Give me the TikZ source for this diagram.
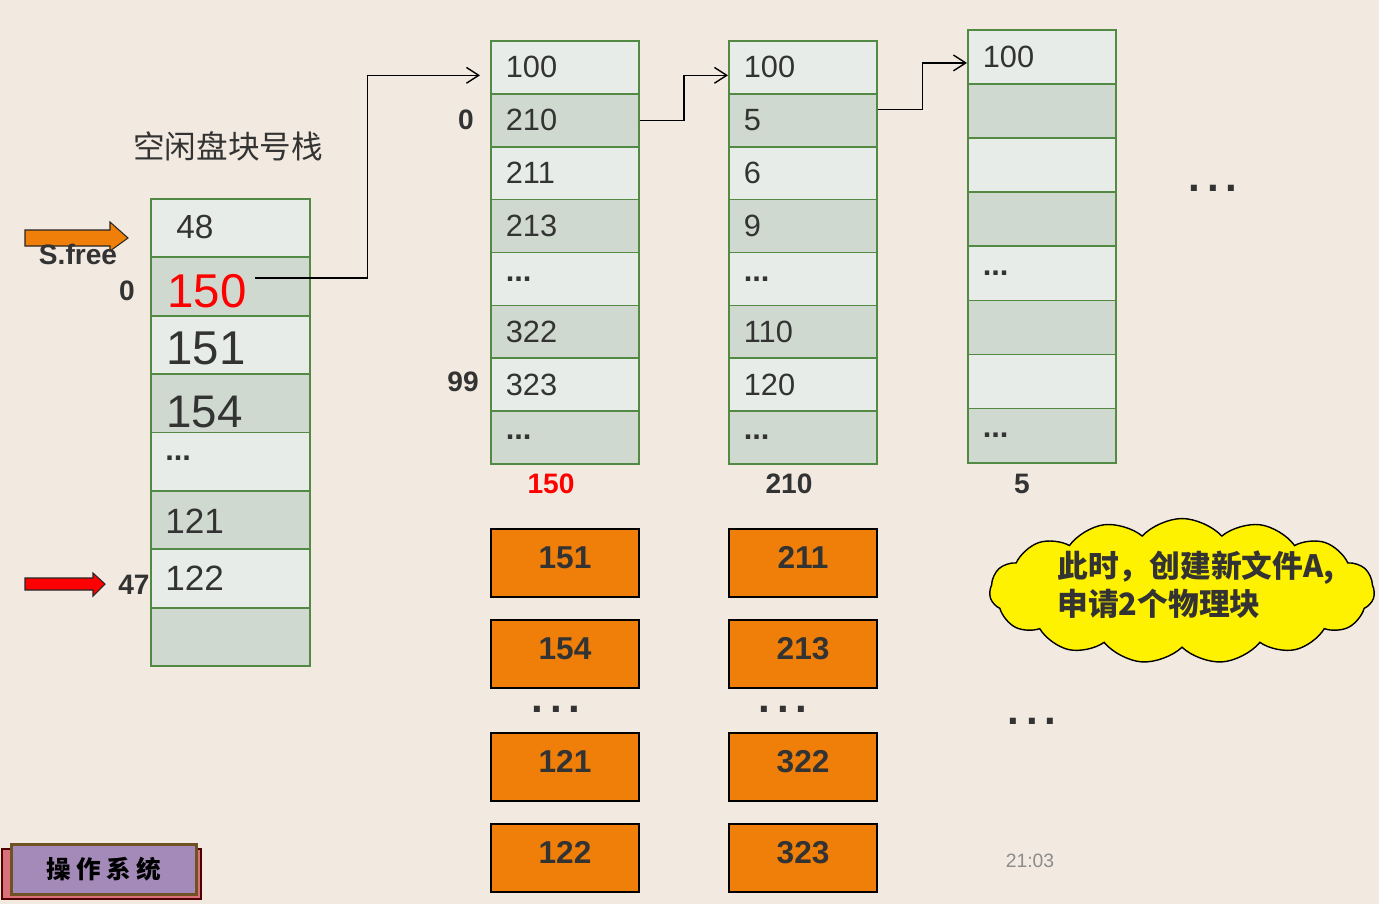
\documentclass[tikz,border=0pt]{standalone}
\usepackage{fontspec}
\setmainfont{Liberation Sans}
\newfontfamily\cjk{Noto Sans CJK SC}
\usetikzlibrary{calc,arrows.meta,shapes.symbols}
\definecolor{bg}{HTML}{F2EAE0}
\definecolor{cellA}{HTML}{E8ECE8}
\definecolor{cellB}{HTML}{CFD9CF}
\definecolor{cellline}{HTML}{538A43}
\definecolor{ink}{HTML}{333333}
\definecolor{blkorange}{HTML}{F07F09}
\definecolor{ospurple}{HTML}{A38AB8}
\definecolor{osframe}{HTML}{6E5223}
\definecolor{ospink}{HTML}{D9707A}
\newcommand{\celldots}{\textbf{...}}
\tikzset{
  cell/.style={draw=cellline,line width=1pt,anchor=north west,inner xsep=0.3cm,inner ysep=0pt,
    text width=2.36cm,align=left,minimum height=1.058cm,text=ink,font=\fontsize{17.5}{20}\selectfont},
  stackcell/.style={draw=cellline,line width=1pt,anchor=north west,minimum width=3.18cm,minimum height=1.168cm},
  stxt/.style={anchor=west,inner sep=0pt,text=ink},
  idx/.style={inner sep=0pt,text=ink,font=\bfseries\fontsize{16}{16}\selectfont},
  blk/.style={draw=black,line width=1.2pt,fill=blkorange,anchor=north west,minimum width=2.96cm,
    minimum height=1.36cm,inner sep=0pt,text=ink,font=\bfseries\fontsize{18}{18}\selectfont},
  bigdots/.style={inner sep=0pt,text=ink,font=\bfseries\fontsize{24}{24}\selectfont},
  link/.style={->,line width=0.8pt}
}
\begin{document}
\begin{tikzpicture}[x=0.02cm,y=-0.02cm,>={Straight Barb[length=7pt,width=9pt]}]
  \useasboundingbox[fill=bg] (0,0) rectangle (1379,904);
  % free block stack
  \node[text=ink,font=\cjk\fontsize{18}{18}\selectfont] (title) at (228,146) {空闲盘块号栈};
  \foreach \i/\f in {0/cellA,1/cellB,2/cellA,3/cellB,4/cellA,5/cellB,6/cellA,7/cellB}
    \node[stackcell,fill=\f] (s\i) at (150,{198+58.4*\i}) {};
  \node[stxt,font=\fontsize{19}{19}\selectfont] (sv0) at (176,227) {48};
  \node[stxt,font=\fontsize{27}{27}\selectfont,text=red] (sv1) at (167,291) {150};
  \node[stxt,font=\fontsize{27}{27}\selectfont] (sv2) at (166,348) {151};
  \node[stxt,font=\fontsize{26}{26}\selectfont] (sv3) at (166,412) {154};
  \node[stxt,font=\fontsize{17.5}{18}\selectfont] (sv4) at (165,458) {\celldots};
  \node[stxt,font=\fontsize{20}{20}\selectfont] (sv5) at (165,521) {121};
  \node[stxt,font=\fontsize{20}{20}\selectfont] (sv6) at (165,578) {122};
  \node[idx] (i0) at (127,291) {0};
  \node[idx] (i47) at (134,585) {47};
  % pointers
  \draw[fill=blkorange,draw=black!85,line width=0.6pt] (25,230) -- (110,230) -- (110,222)
    -- (128,238) -- (110,251) -- (110,246) -- (25,246) -- cycle;
  \node[idx,font=\bfseries\fontsize{16}{16}\selectfont] (sfree) at (78,254) {S.free};
  \draw[fill=red,draw=black!85,line width=0.6pt] (25,578) -- (93,578) -- (93,573)
    -- (105,584) -- (93,596) -- (93,590) -- (25,590) -- cycle;
  % group blocks
  \foreach \i/\t/\f in {0/100/cellA,1/210/cellB,2/211/cellA,3/213/cellB,4/\celldots/cellA,5/322/cellB,6/323/cellA,7/\celldots/cellB}
    \node[cell,fill=\f] (a\i) at (490,{40+52.9*\i}) {\t};
  \foreach \i/\t/\f in {0/100/cellA,1/5/cellB,2/6/cellA,3/9/cellB,4/\celldots/cellA,5/110/cellB,6/120/cellA,7/\celldots/cellB}
    \node[cell,fill=\f] (b\i) at (728,{40+52.9*\i}) {\t};
  \foreach \i/\t/\f in {0/100/cellA,1//cellB,2//cellA,3//cellB,4/\celldots/cellA,5//cellB,6//cellA,7/\celldots/cellB}
    \node[cell,fill=\f,minimum height=1.082cm] (c\i) at (967,{29+54.1*\i}) {\t};
  \node[idx] (j0) at (466,120) {0};
  \node[idx] (j99) at (463,382) {99};
  \node[idx,text=red] (na) at (551,484) {150};
  \node[idx] (nb) at (789,484) {210};
  \node[idx] (nc) at (1022,484) {5};
  % links
  \coordinate (l1) at ($(sv1.east)+(8,-13)$);
  \coordinate (l2) at ($(a0.west)+(-10,8)$);
  \draw[link] (l1) -| ($(l1)!.5!(l2)$) |- (l2);
  \coordinate (l3) at ($(b0.west)+(0,8)$);
  \draw[link] (a1.east) -| ($(a1.east)!.5!(l3)$) |- (l3);
  \coordinate (l4) at ($(b1.east)+(0,-11)$);
  \coordinate (l5) at ($(c0.west)+(0,6)$);
  \draw[link] (l4) -| ($(l4)!.5!(l5)$) |- (l5);
  % allocated blocks
  \foreach \i/\t/\y in {1/151/528,2/154/619,3/121/732,4/122/823}
    \node[blk] (p\i) at (490,\y) {\raisebox{6pt}{\t}};
  \foreach \i/\t/\y in {1/211/528,2/213/619,3/322/732,4/323/823}
    \node[blk] (q\i) at (728,\y) {\raisebox{6pt}{\t}};
  \node[bigdots] (d1) at (556,709) {.\kern4pt.\kern4pt.};
  \node[bigdots] (d2) at (783,709) {.\kern4pt.\kern4pt.};
  \node[bigdots] (d3) at (1032,721) {.\kern4pt.\kern4pt.};
  \node[bigdots] (d4) at (1213,188) {.\kern4pt.\kern4pt.};
  % note
  \node[cloud,cloud puffs=15,cloud puff arc=95,aspect=2.7,draw=black,line width=0.8pt,fill=yellow,
    minimum width=7.7cm,minimum height=2.9cm] (note) at (1182,591) {};
  \node[anchor=west,align=left,inner sep=0pt,text=ink,
    font=\cjk\bfseries\fontsize{17.5}{21.6}\selectfont] (notetxt) at (1057,585)
    {此时，创建新文件A,\\申请2个物理块};
  \node[text=black!45,inner sep=0pt,font=\fontsize{11}{11}\selectfont] (clock) at (1030,861) {21:03};
  % footer
  \draw[fill=ospink,draw=black!70!red,line width=1.2pt] (2,849) rectangle (201,899);
  \node[draw=osframe,line width=1.5pt,fill=ospurple,anchor=north west,minimum width=3.7cm,
    minimum height=1cm,inner sep=0pt,font=\cjk\bfseries\fontsize{14}{14}\selectfont] (os) at (10,843)
    {操\kern3pt 作\kern3pt 系\kern3pt 统};
\end{tikzpicture}
\end{document}
